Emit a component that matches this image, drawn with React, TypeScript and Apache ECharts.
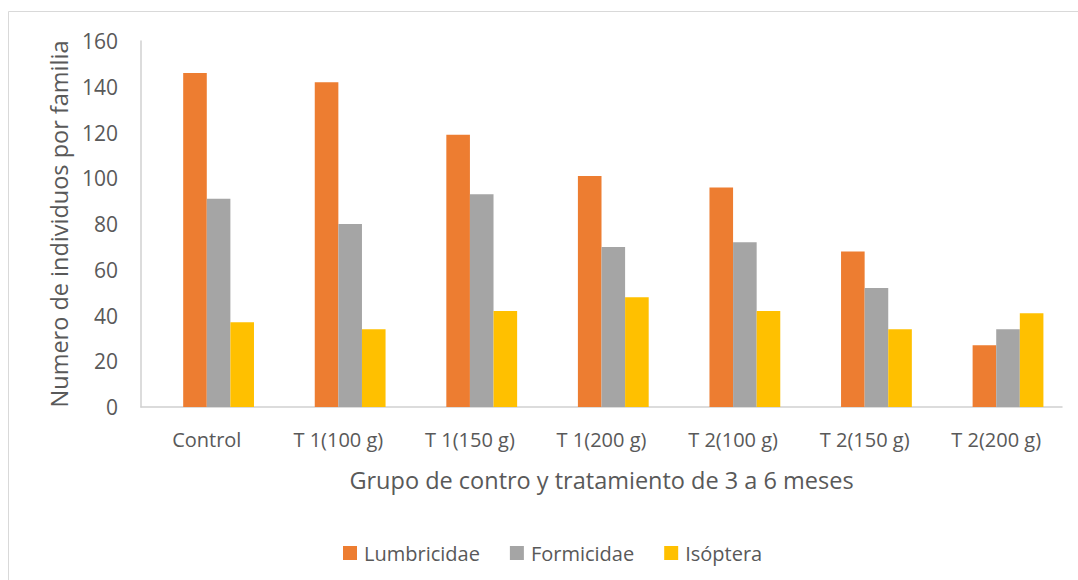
import React, { useEffect, useRef } from "react";
import * as echarts from "echarts";

const categories = [
  "Control",
  "T 1(100 g)",
  "T 1(150 g)",
  "T 1(200 g)",
  "T 2(100 g)",
  "T 2(150 g)",
  "T 2(200 g)",
];
const lumbricidae = [146, 142, 119, 101, 96, 68, 27];
const formicidae = [91, 80, 93, 70, 72, 52, 34];
const isoptera = [37, 34, 42, 48, 42, 34, 41];
// The workbook holds an empty fourth series ahead of the others, so each
// group of bars sits to the right of its category label.
const emptySeries = [null, null, null, null, null, null, null];
const yTicks = { min: 0, max: 160, interval: 20 };

const FONT = "'Open Sans', 'Noto Sans', sans-serif";
const TEXT = "#595959";
const AXIS = "#d0d0d0";

export default function App() {
  const ref = useRef<HTMLDivElement>(null);

  useEffect(() => {
    if (!ref.current) return;
    const chart = echarts.init(ref.current, undefined, { renderer: "svg" });
    const barStyle = (color: string) => ({
      type: "bar" as const,
      barWidth: 23.6,
      barGap: "0%",
      itemStyle: { color },
    });
    chart.setOption({
      animation: false,
      backgroundColor: "#ffffff",
      textStyle: { fontFamily: FONT, color: TEXT },
      graphic: [
        {
          type: "rect",
          silent: true,
          shape: { x: 8.5, y: 11.5, width: 1200, height: 700 },
          style: { fill: "none", stroke: "#d9d9d9", lineWidth: 1 },
        },
      ],
      grid: { left: 141, right: 16, top: 41, bottom: 173 },
      legend: {
        data: ["Lumbricidae", "Formicidae", "Isóptera"],
        left: 338,
        top: 538,
        itemWidth: 14,
        itemHeight: 14,
        itemGap: 30,
        icon: "rect",
        textStyle: { fontFamily: FONT, fontSize: 20, color: TEXT, padding: [0, 0, 0, 2] },
      },
      xAxis: {
        type: "category",
        data: categories,
        axisTick: { show: false },
        axisLine: { lineStyle: { color: AXIS, width: 1.5 } },
        axisLabel: { fontFamily: FONT, fontSize: 20, color: TEXT, margin: 22 },
        name: "Grupo de contro y tratamiento de 3 a 6 meses",
        nameLocation: "middle",
        nameGap: 61,
        nameTextStyle: { fontFamily: FONT, fontSize: 23.5, color: TEXT },
      },
      yAxis: {
        type: "value",
        min: yTicks.min,
        max: yTicks.max,
        interval: yTicks.interval,
        splitLine: { show: false },
        axisTick: { show: false },
        axisLine: { show: true, lineStyle: { color: AXIS, width: 1.5 } },
        axisLabel: { fontFamily: FONT, fontSize: 21, color: TEXT, margin: 23 },
        name: "Numero de individuos por familia",
        nameLocation: "middle",
        nameGap: 67,
        nameTextStyle: { fontFamily: FONT, fontSize: 23.5, color: TEXT },
      },
      series: [
        { ...barStyle("#ffffff"), name: "_", data: emptySeries },
        { ...barStyle("#ED7D31"), name: "Lumbricidae", data: lumbricidae },
        { ...barStyle("#A5A5A5"), name: "Formicidae", data: formicidae },
        { ...barStyle("#FFC000"), name: "Isóptera", data: isoptera },
      ],
    });
    return () => chart.dispose();
  }, []);

  return (
    <div
      ref={ref}
      style={{ position: "fixed", left: 0, top: 0, width: 1078, height: 580 }}
    />
  );
}
